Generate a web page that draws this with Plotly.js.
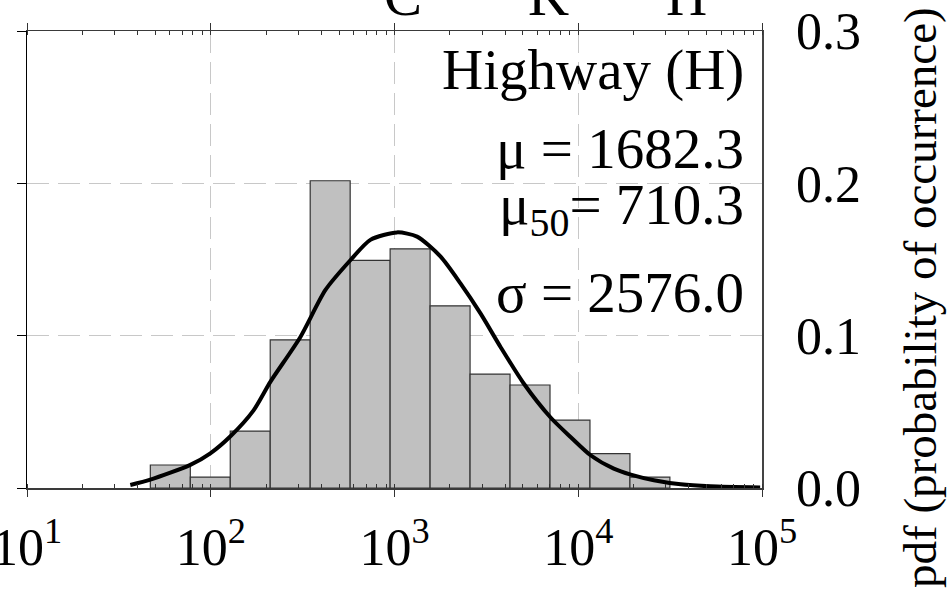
<!DOCTYPE html>
<html>
<head>
<meta charset="utf-8">
<script src="https://cdn.plot.ly/plotly-3.0.1.min.js"></script>
<style>
  html, body { margin: 0; padding: 0; background: #fff; }
  #chart { width: 951px; height: 593px; }
</style>
</head>
<body>
<div id="chart"></div>
<script>
// Log-spaced histogram bin edges (trip length)
const binEdges = [46.9, 77.4, 127.7, 210.7, 347.7, 573.8, 946.7, 1562, 2578, 4254, 7019, 11580, 19110, 31530];
// Probability of occurrence in each bin
const binProb = [0.0151, 0.0072, 0.0374, 0.0972, 0.2017, 0.1494, 0.1570, 0.1196, 0.0748, 0.0676, 0.0446, 0.0226, 0.0072];

// Fitted lognormal pdf, sampled along the axis
const fitX = [36.5, 46.9, 77.4, 99.5, 128, 171, 211, 307, 421, 575, 739, 1033, 1327, 1778, 2285, 2937, 3775, 5050, 7070, 9080, 11670, 15610, 19320, 25790, 36130, 52500, 97700];
const fitY = [0.002, 0.0055, 0.0152, 0.0228, 0.034, 0.051, 0.0697, 0.099, 0.130, 0.1495, 0.1629, 0.1678, 0.165, 0.152, 0.1343, 0.1146, 0.0926, 0.0686, 0.0463, 0.0335, 0.0215, 0.0127, 0.0088, 0.0051, 0.0024, 0.0011, 0.0003];

// Axis ticks
const xTickVals = [10, 100, 1000, 10000, 100000];
const xTickText = ['10<sup>1</sup>', '10<sup>2</sup>', '10<sup>3</sup>', '10<sup>4</sup>', '10<sup>5</sup>'];
const yTickVals = [0, 0.1, 0.2, 0.3];
const yTickText = ['0.0', '0.1', '0.2', '0.3'];

// Panel labels
const panelTitle = 'Highway (H)';
const statLines = ['\u03bc = 1682.3', '\u03bc<sub>50</sub>= 710.3', '\u03c3 = 2576.0'];
const headerLetters = ['C', 'K', 'H'];
const yTitle = 'pdf (probability of occurrence)';

const serif = 'Liberation Serif, Times New Roman, serif';

// Bars span [lo, hi]: centre and width in data units
const barX = [], barW = [];
for (let i = 0; i < binProb.length; i++) {
  const lo = binEdges[i], hi = binEdges[i + 1];
  barX.push((lo + hi) / 2);
  barW.push(hi - lo);
}

const traces = [
  {
    type: 'bar',
    x: barX,
    y: binProb,
    width: barW,
    marker: { color: '#c0c0c0', line: { color: '#333333', width: 1.2 } },
    xaxis: 'x', yaxis: 'y',
    hoverinfo: 'skip'
  },
  {
    // fitted curve sits on the right-hand axis (same 0-0.3 scale), drawn over the bars
    type: 'scatter',
    mode: 'lines',
    x: fitX,
    y: fitY,
    line: { color: '#000000', width: 4, shape: 'spline', smoothing: 0.7 },
    xaxis: 'x', yaxis: 'y2',
    hoverinfo: 'skip'
  }
];

const gridStyle = { gridcolor: '#c8c8c8', gridwidth: 1, griddash: '22px,9px' };

const annotations = [];
const textAnn = (text, x, y, size, xanchor, extra) => Object.assign({
  text: text, x: x, y: y, xref: 'paper', yref: 'paper',
  xanchor: xanchor, yanchor: 'middle', showarrow: false,
  font: { family: serif, size: size, color: '#000' }
}, extra || {});

annotations.push(textAnn(panelTitle, 0.978, 0.9140, 57, 'right'));
const statY = [0.7430, 0.6100, 0.4270];
statLines.forEach((t, i) => annotations.push(textAnn(t, 0.978, statY[i], 57, 'right')));
const headerX = [0.5116, 0.710, 0.8966];
headerLetters.forEach((t, i) => annotations.push(textAnn(t, headerX[i], 1.0770, 57, 'center')));
annotations.push(textAnn(yTitle, 1.2150, 0.4158, 47, 'center', { textangle: -90 }));

const layout = {
  width: 951, height: 593,
  margin: { l: 27, r: 189, t: 31, b: 105 },
  paper_bgcolor: '#ffffff', plot_bgcolor: '#ffffff',
  showlegend: false, hovermode: false,
  xaxis: Object.assign({
    type: 'log', range: [1, 5],
    tickmode: 'array', tickvals: xTickVals, ticktext: xTickText,
    ticks: 'outside', ticklen: 7, tickwidth: 1, tickcolor: '#333',
    minor: { ticks: 'inside', ticklen: 4, tickwidth: 1, tickcolor: '#333', dtick: 'D1', showgrid: false },
    showline: true, linecolor: '#3a3a3a', linewidth: 1.5, mirror: 'ticks',
    showgrid: true, zeroline: false,
    tickfont: { family: serif, size: 52, color: '#000' },
    ticklabelstandoff: 6,
    ticklabeloverflow: 'allow'
  }, gridStyle),
  yaxis: Object.assign({
    range: [0, 0.3], tickmode: 'array', tickvals: yTickVals,
    ticks: 'outside', ticklen: 9, tickwidth: 1, tickcolor: '#000',
    showticklabels: false,
    showline: true, linecolor: '#000', linewidth: 1.2,
    showgrid: true, zeroline: false
  }, gridStyle),
  yaxis2: {
    overlaying: 'y', side: 'right', range: [0, 0.3],
    tickmode: 'array', tickvals: yTickVals, ticktext: yTickText,
    ticks: '', showline: true, linecolor: '#444', linewidth: 1.5,
    showgrid: false, zeroline: false,
    tickfont: { family: serif, size: 52, color: '#000' },
    ticklabelstandoff: 22,
    ticklabeloverflow: 'allow'
  },
  annotations: annotations
};

Plotly.newPlot('chart', traces, layout, { staticPlot: true, displayModeBar: false });
</script>
</body>
</html>
